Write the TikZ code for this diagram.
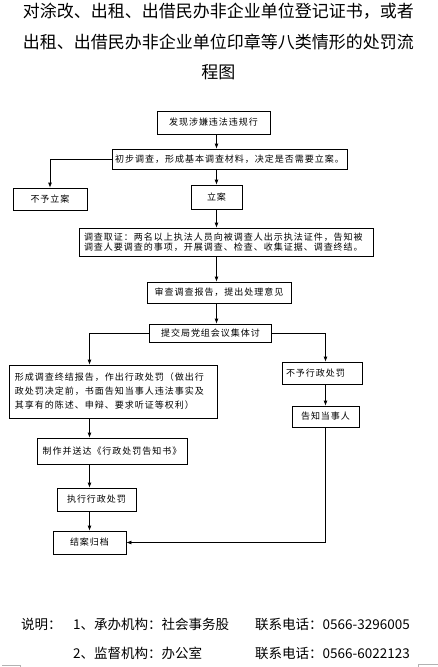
\documentclass[tikz,border=0pt]{standalone}
\usepackage{fontspec}
\setmainfont{Noto Sans CJK SC}
\newfontfamily\boxfont{Noto Sans CJK SC}[LetterSpace=11]
\usetikzlibrary{arrows.meta}

\begin{document}
\begin{tikzpicture}[x=1pt,y=-1pt,
  stepbox/.style={rectangle,draw=black,line width=0.8pt,inner sep=2pt,
                  font=\boxfont\fontsize{9}{10.5}\selectfont},
  arr/.style={-{Latex[length=5pt,width=4pt]},line width=0.8pt},
  notetext/.style={anchor=west,inner sep=0pt,font=\fontsize{13.5}{16}\selectfont},
  cornermark/.style={gray!60,line width=0.6pt}
]
\useasboundingbox (0,0) rectangle (438,667);
% title
\node[align=center,inner sep=0pt,font=\fontsize{17}{30.5}\selectfont] (title) at (218.5,41.5)
  {对涂改、出租、出借民办非企业单位登记证书，或者\\出租、出借民办非企业单位印章等八类情形的处罚流\\程图};
% flow boxes
\node[stepbox,minimum width=113pt,minimum height=23pt] (find)   at (213.5,122.5) {发现涉嫌违法违规行};
\node[stepbox,minimum width=235pt,minimum height=20pt] (prelim) at (229.5,159)   {初步调查，形成基本调查材料，决定是否需要立案。};
\node[stepbox,minimum width=74pt,minimum height=22pt]  (nolian) at (50,199)      {不予立案};
\node[stepbox,minimum width=51pt,minimum height=24pt]  (lian)   at (216.5,197)   {立案};
\node[stepbox,minimum height=28pt,inner xsep=5pt,text width=284pt,align=left,
      font=\boxfont\fontsize{9}{10}\selectfont] (evid) at (226,242)
  {调查取证：两名以上执法人员向被调查人出示执法证件，告知被\\调查人要调查的事项，开展调查、检查、收集证据、调查终结。};
\node[stepbox,minimum width=144pt,minimum height=21pt] (review) at (219,292.5)   {审查调查报告，提出处理意见};
\node[stepbox,minimum width=122pt,minimum height=18pt] (submit) at (210.5,333)   {提交局党组会议集体讨};
\node[stepbox,minimum height=53pt,inner xsep=6pt,text width=196pt,align=left,
      font=\boxfont\fontsize{9}{14}\selectfont] (form) at (113,391.5)
  {形成调查终结报告，作出行政处罚（做出行\\政处罚决定前，书面告知当事人违法事实及\\其享有的陈述、申辩、要求听证等权利）};
\node[stepbox,minimum height=22pt,inner xsep=4pt,text width=72pt,align=left] (nopen) at (322,373) {不予行政处罚};
\node[stepbox,minimum width=67pt,minimum height=21pt]  (notify) at (325.5,416.5) {告知当事人};
\node[stepbox,minimum width=150pt,minimum height=26pt] (make)   at (112,451)     {制作并送达《行政处罚告知书》};
\node[stepbox,minimum width=79pt,minimum height=23pt]  (exec)   at (96.5,499.5)  {执行行政处罚};
\node[stepbox,minimum width=73pt,minimum height=23pt]  (close)  at (89.5,542.5)  {结案归档};
% connectors
\draw[arr] (lian |- find.south) -- (lian |- prelim.north);
\draw[arr] (prelim.west) -| (nolian.north);
\draw[arr] (lian |- prelim.south) -- (lian.north);
\draw[arr] (lian.south) -- (lian |- evid.north);
\draw[arr] (lian |- evid.south) -- (lian |- review.north);
\draw[arr] (lian |- review.south) -- (lian |- submit.north);
\draw[arr] (submit.west) -| (close |- form.north);
\draw[arr] (submit.east) -| (notify |- nopen.north);
\draw[arr] (notify |- nopen.south) -- (notify.north);
\draw[arr] (close |- form.south) -- (close |- make.north);
\draw[arr] (close |- make.south) -- (close |- exec.north);
\draw[arr] (close |- exec.south) -- (close.north);
\draw[arr] (notify.south) |- (close.east);
% footer
\node[notetext] (shuoming) at (21,624)  {说明：};
\node[notetext] (org1)     at (73,624)  {1、承办机构：社会事务股};
\node[notetext] (tel1)     at (255,624) {联系电话：0566-3296005};
\node[notetext] (org2)     at (73,653)  {2、监督机构：办公室};
\node[notetext] (tel2)     at (255,653) {联系电话：0566-6022123};
% page corner marks
\draw[cornermark] (2,665) -- (20.5,665) -- (20.5,667);
\draw[cornermark] (438,664.5) -- (418.5,664.5) -- (418.5,667);
\end{tikzpicture}
\end{document}
